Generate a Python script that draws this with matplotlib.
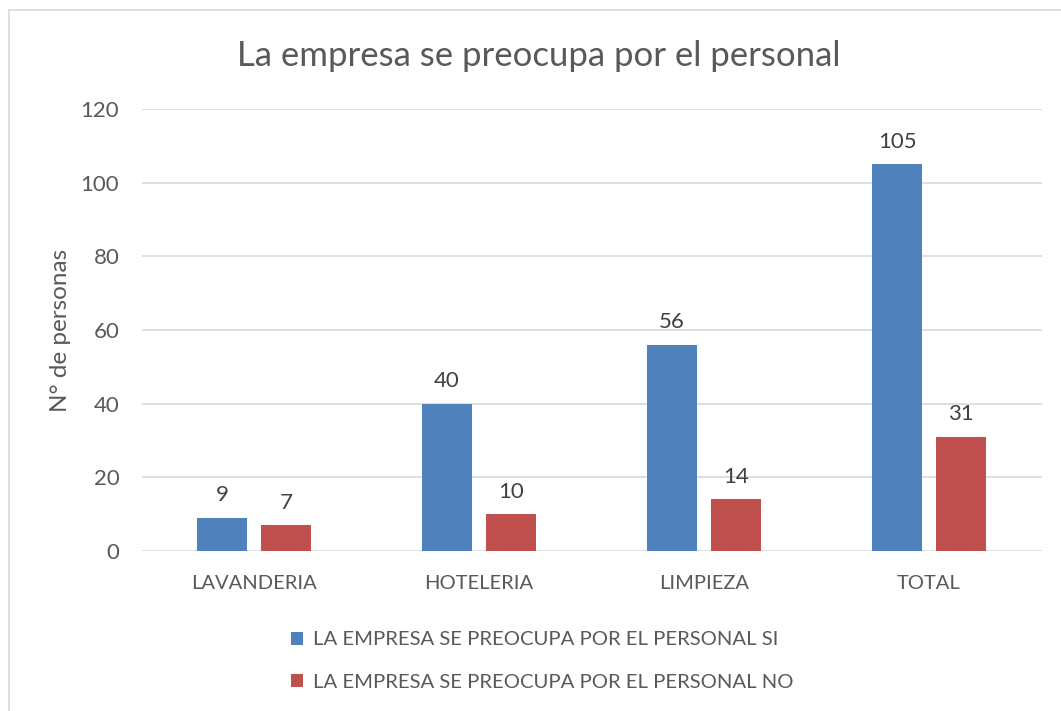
import matplotlib.pyplot as plt
import numpy as np
from matplotlib.lines import Line2D

plt.rcParams['font.family'] = ['Lato', 'DejaVu Sans']

categorias = ['LAVANDERIA', 'HOTELERIA', 'LIMPIEZA', 'TOTAL']
si = [9, 40, 56, 105]
no = [7, 10, 14, 31]
nombres = ['LA EMPRESA SE PREOCUPA POR EL PERSONAL SI',
           'LA EMPRESA SE PREOCUPA POR EL PERSONAL NO']

gris = '#595959'
azul = '#4F81BD'
rojo = '#C0504D'

fig = plt.figure(figsize=(10.61, 7.11), dpi=100)
ax = fig.add_axes([141.5 / 1061, 160 / 711, 900 / 1061, 442 / 711])

x = np.arange(len(categorias))
ancho = 0.222
desp = 0.142
b1 = ax.bar(x - desp, si, ancho, color=azul, label=nombres[0], zorder=3)
b2 = ax.bar(x + desp, no, ancho, color=rojo, label=nombres[1], zorder=3)

for barras in (b1, b2):
    for b in barras:
        ax.annotate(str(int(b.get_height())),
                    (b.get_x() + b.get_width() / 2, b.get_height()),
                    xytext=(0, 9), textcoords='offset points',
                    ha='center', va='bottom', fontsize=16, color='#404040')

ax.set_xlim(-0.5, len(categorias) - 0.5)
ax.set_ylim(0, 120)
ax.set_yticks(range(0, 121, 20))
ax.set_xticks(x)
ax.set_xticklabels(categorias)
ax.tick_params(axis='both', length=0, colors=gris)
ax.tick_params(axis='x', pad=17, labelsize=14.5)
ax.tick_params(axis='y', pad=16, labelsize=16)
ax.grid(axis='y', color='#D9D9D9', linewidth=1.2, zorder=0)
for s in ax.spines.values():
    s.set_visible(False)
ax.set_ylabel('N° de personas', fontsize=17.5, color=gris)
ax.yaxis.set_label_coords(-0.078, 0.5)

fig.text(539 / 1061, 1 - 56 / 711, 'La empresa se preocupa por el personal',
         ha='center', va='center', fontsize=25, color=gris)

leg = fig.legend(loc='upper left', bbox_to_anchor=(273 / 1061, 1 - 613 / 711),
                 frameon=False, fontsize=14.6, handlelength=0.6, handleheight=0.6,
                 handletextpad=0.45, labelspacing=1.25)
for t in leg.get_texts():
    t.set_color(gris)

# borde del área del gráfico
fig.add_artist(Line2D([9 / 1061, 9 / 1061], [0, 1 - 10 / 711],
                      transform=fig.transFigure, color='#D9D9D9', linewidth=1.2))
fig.add_artist(Line2D([9 / 1061, 1], [1 - 10 / 711, 1 - 10 / 711],
                      transform=fig.transFigure, color='#D9D9D9', linewidth=1.2))

fig.savefig('out.png', dpi=100, facecolor='white')
